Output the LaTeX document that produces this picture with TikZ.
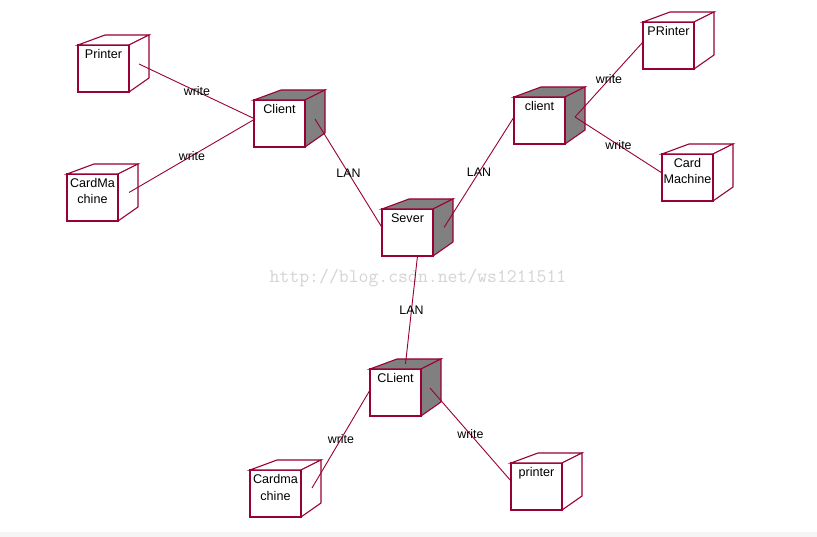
\documentclass[tikz,border=0pt]{standalone}
\usepackage{fontspec}
\setmainfont{Liberation Sans}
\usetikzlibrary{calc}
\definecolor{rose}{RGB}{153,0,51}
\definecolor{facegray}{RGB}{128,128,128}
\newcommand{\boxtext}[1]{\parbox[t][47pt][t]{51pt}{\centering\rule{0pt}{13.5pt}#1}}
\newcommand{\ddcube}[2]{%
  \draw[face, fill=#2] (#1.north west) -- ++(27,-10) -- ($(#1.north east)+(20,-10)$) -- (#1.north east) -- cycle;
  \draw[face, fill=#2] (#1.north east) -- ($(#1.north east)+(20,-10)$) -- ($(#1.south east)+(20,-14)$) -- (#1.south east) -- cycle;
  \draw[rose, line width=2pt] (#1.north east) -- (#1.south east) -- (#1.south west);
}
\tikzset{
  front/.style={draw=rose, line width=1.1pt, fill=white, inner sep=0pt, outer sep=0pt,
    anchor=north west, minimum width=51pt, minimum height=47pt,
    font=\fontsize{12.6}{16.5}\selectfont},
  face/.style={draw=rose, line width=1.1pt, line join=miter},
  conn/.style={draw=rose, line width=0.9pt},
  lbl/.style={font=\fontsize{12.4}{14}\selectfont, inner sep=0pt, text=black},
  wm/.style={font=\ttfamily\fontsize{19.2}{19.2}\selectfont, text=black!17, inner sep=0pt},
}
\begin{document}
\begin{tikzpicture}[x=1pt, y=-1pt]
\useasboundingbox (0,0) rectangle (817,537);
\fill[white] (0,0) rectangle (817,537);
\fill[black!4] (0,532) rectangle (817,537);

% watermark
\node[wm] (wmk) at (418,278) {http://blog.csdn.net/ws1211511};

% nodes
\node[front] (p1) at (78,45) {\boxtext{Printer}};
\ddcube{p1}{white}
\node[front] (m1) at (67,174) {\boxtext{CardMa\\chine}};
\ddcube{m1}{white}
\node[front] (c1) at (254,100) {\boxtext{Client}};
\ddcube{c1}{facegray}
\node[front] (s) at (382,209) {\boxtext{Sever}};
\ddcube{s}{facegray}
\node[front] (c2) at (514,97) {\boxtext{client}};
\ddcube{c2}{facegray}
\node[front] (p2) at (643,22) {\boxtext{PRinter}};
\ddcube{p2}{white}
\node[front] (m2) at (662,154) {\boxtext{Card\\Machine}};
\ddcube{m2}{white}
\node[front] (c3) at (370,369) {\boxtext{CLient}};
\ddcube{c3}{facegray}
\node[front] (m3) at (250,470) {\boxtext{Cardma\\chine}};
\ddcube{m3}{white}
\node[front] (p3) at (511,463) {\boxtext{printer}};
\ddcube{p3}{white}

% connectors
\draw[conn] ([shift={(10,-4.5)}]p1.east) -- node[lbl]{write} ([shift={(1,-4.5)}]c1.west);
\draw[conn] ([shift={(11,-5)}]m1.east) -- node[lbl]{write} ([shift={(1,-4.5)}]c1.west);
\draw[conn] ([shift={(10,-4.5)}]c1.east) -- node[lbl]{LAN} ([shift={(0,-5)}]s.west);
\draw[conn] ([shift={(11,-5)}]s.east) -- node[lbl]{LAN} ([shift={(0,-3.5)}]c2.west);
\draw[conn] ([shift={(10,-3.5)}]c2.east) -- node[lbl]{write} ([shift={(0,-3.5)}]p2.west);
\draw[conn] ([shift={(10,-3.5)}]c2.east) -- node[lbl]{write} ([shift={(0,-4.5)}]m2.west);
\draw[conn] ([shift={(10,0)}]s.south) -- node[lbl]{LAN} ([shift={(10,-5)}]c3.north);
\draw[conn] ([shift={(0,-2.5)}]c3.west) -- node[lbl]{write} ([shift={(11,-5.5)}]m3.east);
\draw[conn] ([shift={(9,-4.5)}]c3.east) -- node[lbl]{write} ([shift={(0,-5.5)}]p3.west);
\end{tikzpicture}
\end{document}
